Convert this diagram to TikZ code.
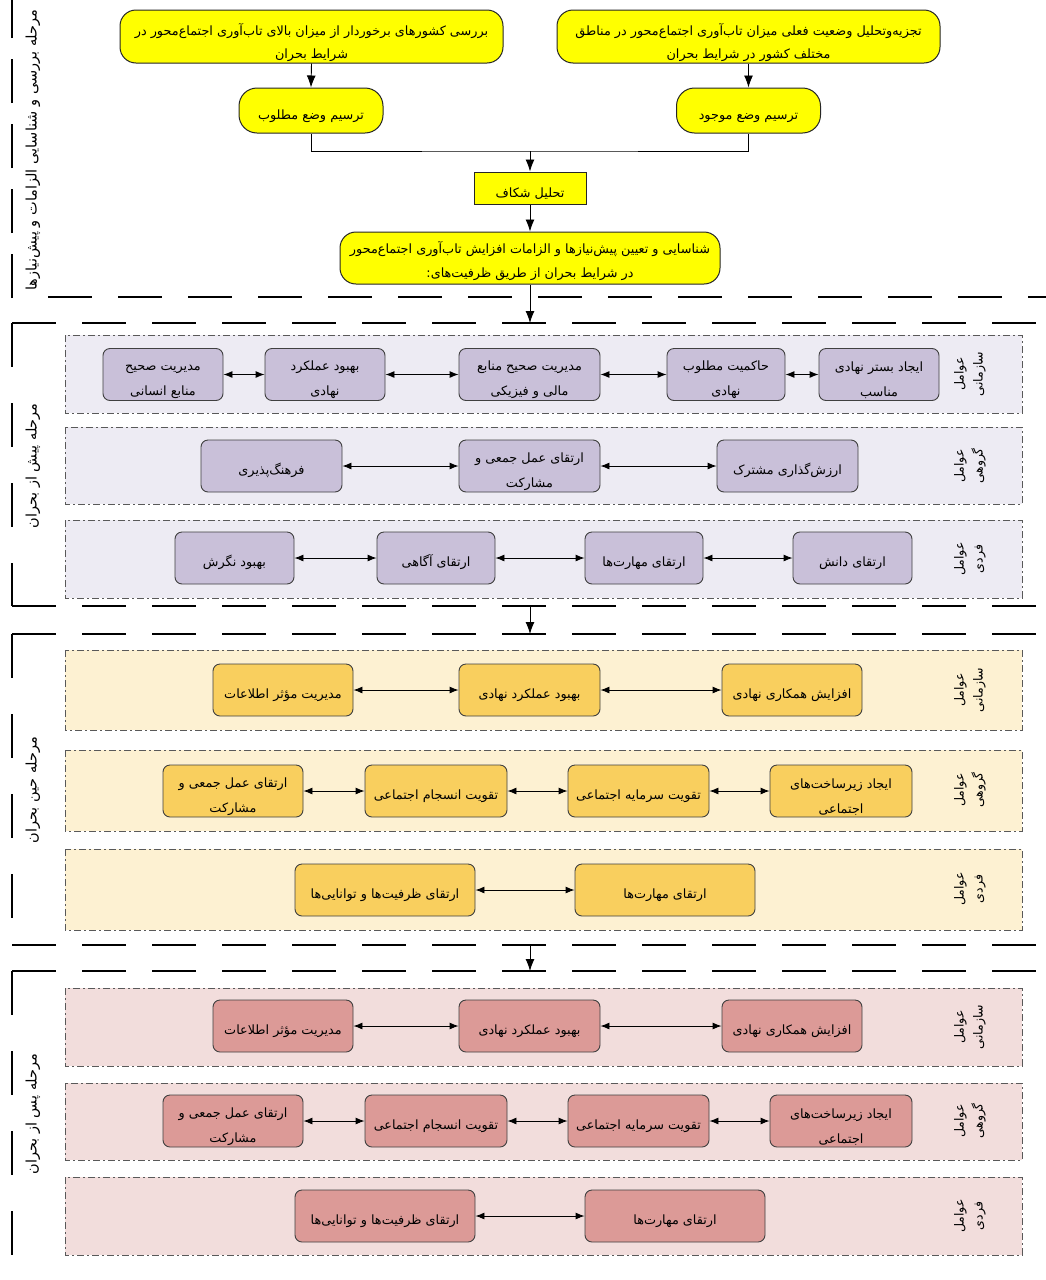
\documentclass[tikz,border=0pt]{standalone}
\usepackage{fontspec}
\usetikzlibrary{arrows.meta}
\TeXXeTstate=1
\newfontfamily\arabicfont[Script=Arabic]{DejaVu Sans}
\newcommand\myR[1]{\beginR#1\endR}
\newcommand\up[1]{\rule{0pt}{#1pt}}
\newcommand\ytext{\arabicfont\fontsize{12.8}{23.5}\selectfont}
\newcommand\ntext{\arabicfont\fontsize{12.8}{25}\selectfont}
\newcommand\stext{\arabicfont\fontsize{12.5}{19}\selectfont}
\newcommand\ptext{\arabicfont\fontsize{14.5}{16}\selectfont}
\definecolor{lavb}{HTML}{EDEBF3}
\definecolor{lavn}{HTML}{C9C0D9}
\definecolor{yelb}{HTML}{FDF1D2}
\definecolor{yeln}{HTML}{F9CF5E}
\definecolor{pinkb}{HTML}{F2DDDC}
\definecolor{pinkn}{HTML}{DC9A97}
\definecolor{yel}{HTML}{FFFF00}
\tikzset{
 yelbase/.style={draw=black!85, line width=1pt, fill=yel, rounded corners=16pt, align=center, inner sep=0pt, font=\ytext},
 yelbox/.style={yelbase, execute at begin node={\up{21}}},
 ndbase/.style={draw=black!75, line width=0.9pt, rounded corners=7pt, align=center, inner sep=0pt, minimum height=52pt, minimum width=#1pt, font=\ntext},
 nd/.style={ndbase=#1, execute at begin node={\up{21}}},
 band/.style={draw=black!65, line width=0.8pt, dash pattern=on 7pt off 3pt on 2pt off 3pt},
 phaseh/.style={line width=2.8pt, dash pattern=on 44pt off 26pt},
 phasev/.style={line width=2.8pt, dash pattern=on 44pt off 36pt},
 arr/.style={line width=0.9pt, -{Latex[length=12pt,width=9pt]}},
 darr/.style={line width=0.9pt, {Latex[length=9pt,width=7pt]}-{Latex[length=9pt,width=7pt]}},
 side/.style={rotate=90, align=center, font=\stext, inner sep=0pt},
 plabel/.style={rotate=90, font=\ptext, inner sep=0pt},
}
\begin{document}
\begin{tikzpicture}[x=1pt,y=-1pt]
\useasboundingbox (0,0) rectangle (1046,1280);
\fill[white] (0,0) rectangle (1046,1280);

% ---------- phase frames ----------
\draw[line width=2.8pt, dash pattern=on 44pt off 21pt] (12,298) -- (12,-10);
\draw[phaseh] (48,297) -- (1060,297);
\draw[phaseh] (12,323) -- (1060,323);
\draw[phasev] (12,323) -- (12,606);
\draw[phaseh] (12,606) -- (1060,606);
\draw[phaseh] (12,634) -- (1060,634);
\draw[phasev] (12,634) -- (12,945);
\draw[phaseh] (12,945) -- (1060,945);
\draw[phaseh] (12,971) -- (1060,971);
\draw[phasev] (12,971) -- (12,1290);

\coordinate (t2) at (530,323);
\coordinate (b2) at (530,606);
\coordinate (t3) at (530,634);
\coordinate (b3) at (530,945);
\coordinate (t4) at (530,971);

% ---------- phase labels ----------
\node[plabel] (p1) at (33,150) {\myR{مرحله بررسی و شناسایی الزامات و پیش^^^^200cنیازها}};
\node[plabel] (p2) at (33,466) {\myR{مرحله پیش از بحران}};
\node[plabel] (p3) at (33,790) {\myR{مرحله حین بحران}};
\node[plabel] (p4) at (33,1114) {\myR{مرحله پس از بحران}};

% ---------- top section ----------
\node[yelbase, minimum width=383pt, minimum height=53pt] (A) at (311.5,36.5)
 {\up{24}\myR{بررسی کشورهای برخوردار از میزان بالای تاب^^^^200cآوری اجتماع^^^^200cمحور در}\\\myR{شرایط بحران}};
\node[yelbase, minimum width=383pt, minimum height=53pt] (B) at (748.5,36.5)
 {\up{24}\myR{تجزیه^^^^200cوتحلیل وضعیت فعلی میزان تاب^^^^200cآوری اجتماع^^^^200cمحور در مناطق}\\\myR{مختلف کشور در شرایط بحران}};
\node[yelbox, rounded corners=18pt, minimum width=144pt, minimum height=45pt] (C) at (311,110.5) {\myR{ترسیم وضع مطلوب}};
\node[yelbox, rounded corners=18pt, minimum width=144pt, minimum height=45pt] (D) at (748.5,110.5) {\myR{ترسیم وضع موجود}};
\node[yelbox, sharp corners, minimum width=112pt, minimum height=32pt] (E) at (530,188) {\myR{تحلیل شکاف}};
\node[yelbase, minimum width=380pt, minimum height=52pt] (F) at (530,258)
 {\up{18}\myR{شناسایی و تعیین پیش^^^^200cنیازها و الزامات افزایش تاب^^^^200cآوری اجتماع^^^^200cمحور}\\\myR{در شرایط بحران از طریق ظرفیت^^^^200cهای:}};
\coordinate (j) at (530,151);
\draw[arr] (A.south) -- (C.north);
\draw[arr] (B.south) -- (D.north);
\draw[line width=0.9pt] (C.south) |- (j) -| (D.south);
\draw[arr] (j) -- (E.north);
\draw[arr] (E.south) -- (F.north);
\draw[arr] (F.south) -- (t2);
\draw[arr] (b2) -- (t3);
\draw[arr] (b3) -- (t4);

% ---------- phase 2 : before crisis ----------
\draw[band, fill=lavb] (65,335) rectangle (1022,413);
\draw[band, fill=lavb] (65,427) rectangle (1022,504);
\draw[band, fill=lavb] (65,520) rectangle (1022,598);
\node[side] (s21) at (970,374) {\myR{عوامل}\\\myR{سازمانی}};
\node[side] (s22) at (970,466) {\myR{عوامل}\\\myR{گروهی}};
\node[side] (s23) at (970,559) {\myR{عوامل}\\\myR{فردی}};

\node[ndbase=120, fill=lavn] (a1) at (879,374.5) {\up{21}\myR{ایجاد بستر نهادی}\\\myR{مناسب}};
\node[ndbase=118, fill=lavn] (a2) at (726,374.5) {\up{21}\myR{حاکمیت مطلوب}\\\myR{نهادی}};
\node[ndbase=141, fill=lavn] (a3) at (529.5,374.5) {\up{21}\myR{مدیریت صحیح منابع}\\\myR{مالی و فیزیکی}};
\node[ndbase=120, fill=lavn] (a4) at (325,374.5) {\up{21}\myR{بهبود عملکرد}\\\myR{نهادی}};
\node[ndbase=120, fill=lavn] (a5) at (163,374.5) {\up{21}\myR{مدیریت صحیح}\\\myR{منابع انسانی}};
\draw[darr] (a2.east) -- (a1.west);
\draw[darr] (a3.east) -- (a2.west);
\draw[darr] (a4.east) -- (a3.west);
\draw[darr] (a5.east) -- (a4.west);

\node[nd=141, fill=lavn] (b1) at (787.5,466) {\myR{ارزش^^^^200cگذاری مشترک}};
\node[ndbase=141, fill=lavn] (b2n) at (529.5,466) {\up{21}\myR{ارتقای عمل جمعی و}\\\myR{مشارکت}};
\node[nd=141, fill=lavn] (b3n) at (271.5,466) {\myR{فرهنگ^^^^200cپذیری}};
\draw[darr] (b2n.east) -- (b1.west);
\draw[darr] (b3n.east) -- (b2n.west);

\node[nd=119, fill=lavn] (c1) at (852.5,558) {\myR{ارتقای دانش}};
\node[nd=118, fill=lavn] (c2) at (644,558) {\myR{ارتقای مهارت^^^^200cها}};
\node[nd=118, fill=lavn] (c3) at (436,558) {\myR{ارتقای آگاهی}};
\node[nd=119, fill=lavn] (c4) at (234.5,558) {\myR{بهبود نگرش}};
\draw[darr] (c2.east) -- (c1.west);
\draw[darr] (c3.east) -- (c2.west);
\draw[darr] (c4.east) -- (c3.west);

% ---------- phase 3 : during crisis ----------
\draw[band, fill=yelb] (65,650) rectangle (1022,730);
\draw[band, fill=yelb] (65,750) rectangle (1022,831);
\draw[band, fill=yelb] (65,849) rectangle (1022,930);
\node[side] (s31) at (970,690) {\myR{عوامل}\\\myR{سازمانی}};
\node[side] (s32) at (970,790) {\myR{عوامل}\\\myR{گروهی}};
\node[side] (s33) at (970,889) {\myR{عوامل}\\\myR{فردی}};

\node[nd=140, fill=yeln] (d1) at (792,690) {\myR{افزایش همکاری نهادی}};
\node[nd=141, fill=yeln] (d2) at (529.5,690) {\myR{بهبود عملکرد نهادی}};
\node[nd=140, fill=yeln] (d3) at (283,690) {\myR{مدیریت مؤثر اطلاعات}};
\draw[darr] (d2.east) -- (d1.west);
\draw[darr] (d3.east) -- (d2.west);

\node[ndbase=142, fill=yeln] (e1) at (841,791) {\up{21}\myR{ایجاد زیرساخت^^^^200cهای}\\\myR{اجتماعی}};
\node[nd=141, fill=yeln] (e2) at (638.5,791) {\myR{تقویت سرمایه اجتماعی}};
\node[nd=142, fill=yeln] (e3) at (436,791) {\myR{تقویت انسجام اجتماعی}};
\node[ndbase=140, fill=yeln] (e4) at (233,791) {\up{21}\myR{ارتقای عمل جمعی و}\\\myR{مشارکت}};
\draw[darr] (e2.east) -- (e1.west);
\draw[darr] (e3.east) -- (e2.west);
\draw[darr] (e4.east) -- (e3.west);

\node[nd=180, fill=yeln] (f1) at (665,890) {\myR{ارتقای مهارت^^^^200cها}};
\node[nd=180, fill=yeln] (f2) at (385,890) {\myR{ارتقای ظرفیت^^^^200cها و توانایی^^^^200cها}};
\draw[darr] (f2.east) -- (f1.west);

% ---------- phase 4 : after crisis ----------
\draw[band, fill=pinkb] (65,988) rectangle (1022,1066);
\draw[band, fill=pinkb] (65,1083) rectangle (1022,1160);
\draw[band, fill=pinkb] (65,1177) rectangle (1022,1255);
\node[side] (s41) at (970,1027) {\myR{عوامل}\\\myR{سازمانی}};
\node[side] (s42) at (970,1121) {\myR{عوامل}\\\myR{گروهی}};
\node[side] (s43) at (970,1216) {\myR{عوامل}\\\myR{فردی}};

\node[nd=140, fill=pinkn] (g1) at (792,1026) {\myR{افزایش همکاری نهادی}};
\node[nd=141, fill=pinkn] (g2) at (529.5,1026) {\myR{بهبود عملکرد نهادی}};
\node[nd=140, fill=pinkn] (g3) at (283,1026) {\myR{مدیریت مؤثر اطلاعات}};
\draw[darr] (g2.east) -- (g1.west);
\draw[darr] (g3.east) -- (g2.west);

\node[ndbase=142, fill=pinkn] (h1) at (841,1121) {\up{21}\myR{ایجاد زیرساخت^^^^200cهای}\\\myR{اجتماعی}};
\node[nd=141, fill=pinkn] (h2) at (638.5,1121) {\myR{تقویت سرمایه اجتماعی}};
\node[nd=142, fill=pinkn] (h3) at (436,1121) {\myR{تقویت انسجام اجتماعی}};
\node[ndbase=140, fill=pinkn] (h4) at (233,1121) {\up{21}\myR{ارتقای عمل جمعی و}\\\myR{مشارکت}};
\draw[darr] (h2.east) -- (h1.west);
\draw[darr] (h3.east) -- (h2.west);
\draw[darr] (h4.east) -- (h3.west);

\node[nd=180, fill=pinkn] (k1) at (675,1216) {\myR{ارتقای مهارت^^^^200cها}};
\node[nd=180, fill=pinkn] (k2) at (385,1216) {\myR{ارتقای ظرفیت^^^^200cها و توانایی^^^^200cها}};
\draw[darr] (k2.east) -- (k1.west);
\end{tikzpicture}
\end{document}
